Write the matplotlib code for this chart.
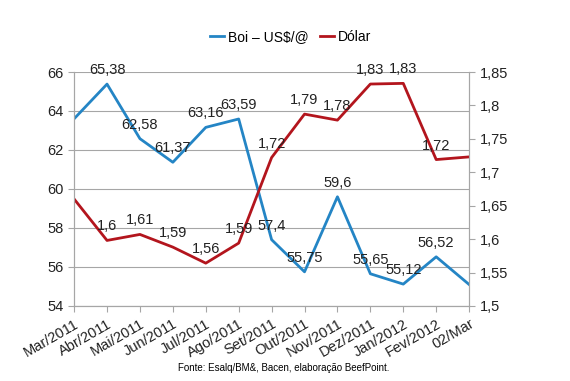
import numpy as np
import matplotlib
matplotlib.use("Agg")
import matplotlib.pyplot as plt

plt.rcParams['font.family'] = ['Liberation Sans', 'DejaVu Sans']

meses = ["Mar/2011", "Abr/2011", "Mai/2011", "Jun/2011", "Jul/2011", "Ago/2011",
         "Set/2011", "Out/2011", "Nov/2011", "Dez/2011", "Jan/2012", "Fev/2012", "02/Mar"]
boi = [63.6, 65.38, 62.58, 61.37, 63.16, 63.59, 57.4, 55.75, 59.6, 55.65, 55.12, 56.52, 55.1]
dolar = [1.66, 1.598, 1.607, 1.588, 1.564, 1.594, 1.722, 1.787, 1.778, 1.832, 1.833, 1.719, 1.723]
# which points get a data label (first/last have none)
boi_lab = [None, "65,38", "62,58", "61,37", "63,16", "63,59", "57,4", "55,75", "59,6",
           "55,65", "55,12", "56,52", None]
dol_lab = [None, "1,6", "1,61", "1,59", "1,56", "1,59", "1,72", "1,79", "1,78",
           "1,83", "1,83", "1,72", None]

azul = "#2485c5"
verm = "#b3151d"
cinza = "#a6a6a6"

fig = plt.figure(figsize=(5.70, 3.81), dpi=100)
ax = fig.add_axes([0.130, 0.197, 0.693, 0.614])
ax2 = ax.twinx()

x = np.arange(len(meses))
l1, = ax.plot(x, boi, color=azul, lw=2.0, label="Boi – US$/@")
l2, = ax2.plot(x, dolar, color=verm, lw=2.0, label="Dólar")

ax.set_xlim(0, len(meses) - 1)
ax.set_ylim(54, 66)
ax.set_yticks(np.arange(54, 67, 2))
ax2.set_ylim(1.5, 1.85)
ax2.set_yticks([1.5, 1.55, 1.6, 1.65, 1.7, 1.75, 1.8, 1.85])
ax2.set_yticklabels(["1,5", "1,55", "1,6", "1,65", "1,7", "1,75", "1,8", "1,85"])

ax.grid(axis='y', color=cinza, lw=0.8)
ax.set_axisbelow(True)
for a in (ax, ax2):
    for s in a.spines.values():
        s.set_color(cinza)
    a.spines['top'].set_visible(False)
    a.tick_params(colors=cinza, labelcolor="#222222", labelsize=10.5, length=4)

ax.set_xticks(x)
ax.set_xticklabels(meses, rotation=30, ha='right', rotation_mode='anchor', fontsize=10.5)
ax.tick_params(axis='x', pad=4)

for xi, v, t in zip(x, boi, boi_lab):
    if t:
        ax.annotate(t, (xi, v), xytext=(0, 5), textcoords='offset points',
                    ha='center', va='bottom', fontsize=10.5, color="#222222")
for xi, v, t in zip(x, dolar, dol_lab):
    if t:
        ax2.annotate(t, (xi, v), xytext=(0, 5), textcoords='offset points',
                     ha='center', va='bottom', fontsize=10.5, color="#222222")

fig.legend(handles=[l1, l2], loc='center', bbox_to_anchor=(0.51, 0.903), ncol=2,
           frameon=False, fontsize=10, handlelength=1.0, handletextpad=0.3,
           columnspacing=0.8)

fig.text(0.497, 0.035, "Fonte: Esalq/BM&, Bacen, elaboração BeefPoint.",
         ha='center', va='center', fontsize=7)

fig.savefig("out.png", dpi=100)
